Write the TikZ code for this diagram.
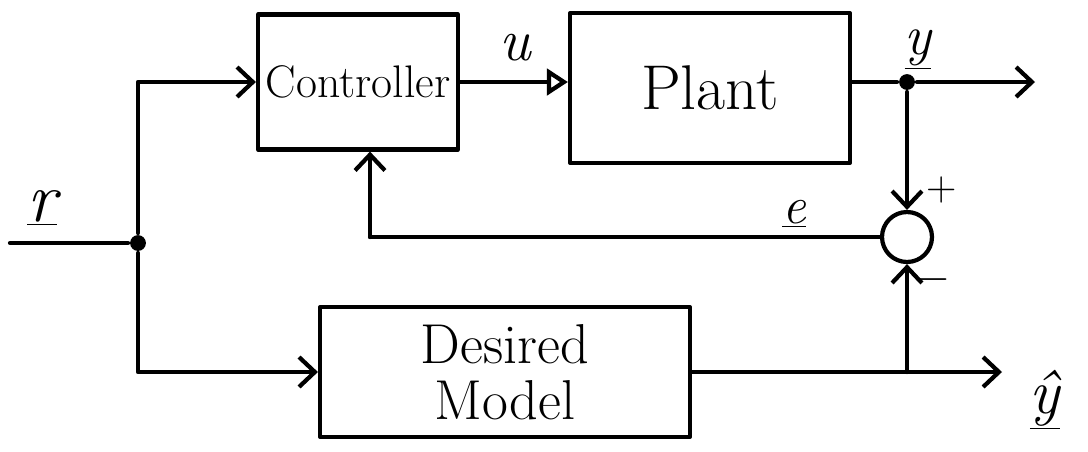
\documentclass[tikz,border=0pt]{standalone}
\usetikzlibrary{arrows.meta,calc}
\begin{document}
\begin{tikzpicture}[x=0.02cm, y=-0.02cm,
  line width=2.4pt, line cap=round, line join=round,
  blk/.style={draw, rectangle, inner sep=0pt},
  barb/.style={-{Straight Barb[length=9pt,width=17pt,line width=2.4pt]}},
  tri/.style={-{Triangle[open,length=12pt,width=15pt,line width=2.4pt]}},
  dotnode/.style={circle, fill, inner sep=0pt, minimum size=9pt},
  sumnode/.style={circle, draw, minimum size=1cm, inner sep=0pt},
  lbl/.style={inner sep=0pt}]

\useasboundingbox (0,0) rectangle (1088,451);

% blocks
\node[blk, minimum width=4cm, minimum height=2.7cm,
      font=\fontsize{26}{28}\selectfont] (ctrl) at (358,82) {Controller};
\node[blk, minimum width=5.6cm, minimum height=3cm,
      font=\fontsize{36}{38}\selectfont] (plant) at (710,88) {Plant};
\node[blk, minimum width=7.4cm, minimum height=2.6cm, align=center,
      font=\fontsize{32}{32}\selectfont] (des) at (505,372) {Desired\\Model};
\node[sumnode] (sum) at (907,237) {};

% branch points
\node[dotnode] (j1) at (138,243) {};
\node[dotnode] (j2) at (907,82) {};

% free ends and corners
\coordinate (rin) at (10,243);
\coordinate (yout) at (1035,82);
\coordinate (yhout) at (1002,372);
\coordinate (fb) at (370,237);

% reference input and its two branches
\draw (rin) -- (j1);
\draw[barb] (j1) |- (ctrl.west);
\draw[barb] (j1) |- (des.west);

% forward path
\draw[tri] (ctrl.east) -- (ctrl.east -| plant.west);
\draw (plant.east |- j2) -- (j2);
\draw[barb] (j2) -- (yout);
\draw[barb] (j2) -- (sum.north);

% model output and comparison
\draw[barb] (des.east) -- (yhout);
\draw[barb] (sum |- des.east) -- (sum.south);

% error fed back to the controller
\draw (sum.west) -- (fb);
\draw[barb] (fb) -- (fb |- ctrl.south);

% signal labels
\node[lbl, font=\fontsize{40}{40}\selectfont\itshape] (rl) at (42,208) {\underline{r}};
\node[lbl, font=\fontsize{34}{34}\selectfont\itshape] (ul) at (515,48) {u};
\node[lbl, anchor=south, font=\fontsize{32}{32}\selectfont\itshape] (yl) at (918,72) {\underline{y}};
\node[lbl, anchor=south, font=\fontsize{30}{30}\selectfont\itshape] (el) at (794,230) {\underline{e}};
\node[lbl, font=\fontsize{36}{36}\selectfont\itshape] (yhl) at (1045,400) {\underline{\^{y}}};
\node[lbl, font=\fontsize{24}{24}\selectfont] (pl) at (942,190) {+};
\node[lbl, font=\fontsize{24}{24}\selectfont] (ml) at (933,280) {$-$};
\end{tikzpicture}
\end{document}
